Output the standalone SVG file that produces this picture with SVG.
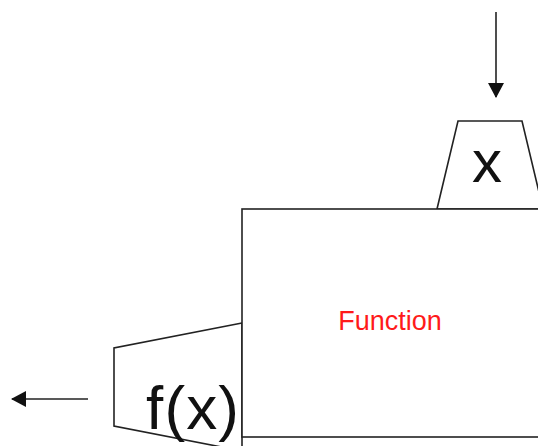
<svg xmlns="http://www.w3.org/2000/svg" width="538" height="446" viewBox="0 0 538 446">
<style>
.shape{fill:#fff;stroke:#222;stroke-width:1.6}
.conn{stroke:#222;stroke-width:1.6;fill:none}
.lbl{font-family:"Liberation Sans",Arial,sans-serif;fill:#111}
</style>
<defs>
<marker id="ah" markerWidth="15" markerHeight="16" refX="14" refY="8" orient="auto" markerUnits="userSpaceOnUse" viewBox="0 0 15 16">
<path d="M0,0 L15,8 L0,16 z" fill="#111"/>
</marker>
</defs>
<rect width="538" height="446" fill="#fff"/>
<g id="input">
<polygon class="shape" points="437,209 458,121 522,121 543,209"/>
<text class="lbl" x="487" y="182" font-size="60" text-anchor="middle">x</text>
</g>
<g id="output">
<polygon class="shape" points="242,323 114,348 114,426 242,451"/>
<text class="lbl" x="146" y="429" font-size="62" textLength="93" lengthAdjust="spacing">f(x)</text>
</g>
<g id="function">
<rect class="shape" x="242" y="209" width="310" height="228"/>
<text x="390" y="330" font-family="Liberation Sans,Arial,sans-serif" font-size="27" fill="#ff1a1a" text-anchor="middle">Function</text>
</g>
<g id="connectors">
<line class="conn" x1="496" y1="12" x2="496" y2="97" marker-end="url(#ah)"/>
<line class="conn" x1="88" y1="399" x2="12" y2="399" marker-end="url(#ah)"/>
</g>
</svg>
